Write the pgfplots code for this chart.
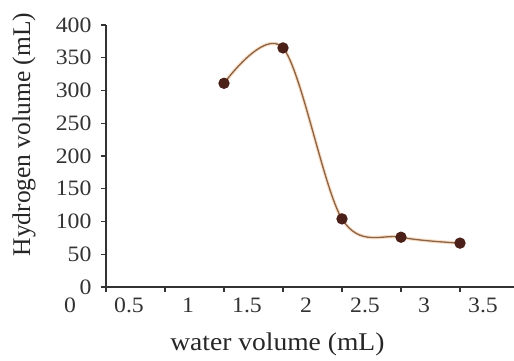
\documentclass[border=0pt]{standalone}
\usepackage{pgfplots}
\pgfplotsset{compat=1.18}
\usepackage{fontspec}
\setmainfont{Liberation Serif}[FakeStretch=1.08]
\newfontfamily\ylabfont{Liberation Serif}
\definecolor{markbrown}{HTML}{4A2018}
\definecolor{linebrown}{HTML}{8A6448}
\definecolor{halo}{HTML}{F6C9A0}
\definecolor{axisgray}{HTML}{333333}
\begin{document}
\begin{tikzpicture}[x=1pt,y=1pt]
\path[use as bounding box] (-106,-73) rectangle (408,287);
\begin{axis}[
  at={(0,0)}, anchor=south west,
  scale only axis, width=413pt, height=262pt,
  xmin=0, xmax=3.5, ymin=0, ymax=400,
  axis lines=left,
  axis line style={-, axisgray, line width=1.6pt},
  xtick={0,0.5,1,1.5,2,2.5,3,3.5},
  xticklabels={0,0.5,1,1.5,2,2.5,3,3.5},
  ytick={0,50,...,400},
  tick align=outside,
  major tick length=5pt,
  tick style={axisgray, line width=1.2pt},
  /pgf/number format/assume math mode=true,
  xticklabel style={font=\fontsize{22}{24}\selectfont, xshift=-36pt, yshift=-2pt, text=axisgray},
  yticklabel style={font=\fontsize{22}{24}\selectfont, xshift=-6pt, text=axisgray},
  xlabel={water volume (mL)},
  ylabel={\ylabfont Hydrogen volume (mL)},
  every axis x label/.style={at={(axis description cs:0.415,-0.218)}, anchor=center, font=\fontsize{25.5}{27}\selectfont, text=black!85},
  every axis y label/.style={at={(axis description cs:-0.1985,0.582)}, anchor=center, rotate=90, font=\fontsize{25.5}{27}\selectfont, text=black!85},
  clip=false,
]
\addplot[halo, line width=3.5pt, opacity=0.6, smooth, tension=0.55] coordinates {
  (1.0,311) (1.5,365) (2.0,104) (2.5,76) (3.0,67)
};
\addplot[linebrown, line width=1.3pt, smooth, tension=0.55,
  mark=*, mark size=5pt, mark options={fill=markbrown, draw=markbrown}] coordinates {
  (1.0,311) (1.5,365) (2.0,104) (2.5,76) (3.0,67)
};
\end{axis}
\end{tikzpicture}
\end{document}
